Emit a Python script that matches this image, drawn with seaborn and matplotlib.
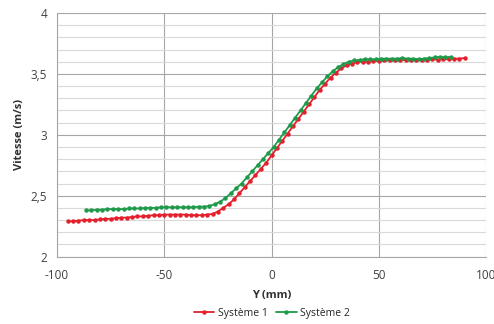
import numpy as np
import pandas as pd
import seaborn as sns
import matplotlib.pyplot as plt
from matplotlib.ticker import MultipleLocator, FuncFormatter

# Système 1 (red): positions every 2.5 mm from -95 to 90
y1 = np.arange(-95, 90.1, 2.5)
v1 = [2.29, 2.29, 2.295, 2.30, 2.30, 2.30, 2.305, 2.31, 2.31, 2.315,
      2.32, 2.32, 2.325, 2.33, 2.33, 2.335, 2.34, 2.34, 2.345, 2.345,
      2.345, 2.345, 2.345, 2.34, 2.34, 2.34, 2.345,
      2.35, 2.37, 2.40, 2.43, 2.47, 2.52, 2.57, 2.62, 2.67, 2.72,
      2.77, 2.83, 2.89, 2.95, 3.01, 3.07, 3.13, 3.19, 3.25, 3.31,
      3.37, 3.42, 3.47, 3.51, 3.545, 3.57, 3.585, 3.595, 3.60, 3.60,
      3.605,
      3.605, 3.61, 3.61, 3.61, 3.61, 3.615, 3.61, 3.615, 3.615, 3.615,
      3.62, 3.615, 3.62, 3.62, 3.625, 3.625, 3.63]

# Système 2 (green): positions every 2.5 mm from -86.5 to 83.5
y2 = np.arange(-86.5, 83.6, 2.5)
v2 = [2.38, 2.38, 2.385, 2.385, 2.39, 2.39, 2.39, 2.39, 2.395, 2.395,
      2.395, 2.40, 2.40, 2.40, 2.405, 2.405, 2.405, 2.405, 2.405, 2.405,
      2.405, 2.41, 2.41, 2.415,
      2.43, 2.45, 2.48, 2.52, 2.56, 2.60, 2.65, 2.70, 2.75, 2.80,
      2.85, 2.90, 2.96, 3.02, 3.08, 3.14, 3.20, 3.26, 3.32, 3.38,
      3.43, 3.48, 3.52, 3.555, 3.58, 3.60,
      3.61, 3.615, 3.62, 3.62, 3.62, 3.625, 3.625, 3.625, 3.625, 3.63,
      3.625, 3.625, 3.62, 3.625, 3.63, 3.635, 3.64, 3.635, 3.64]

df = pd.concat([
    pd.DataFrame({"Y": y1, "V": v1, "serie": "Système 1"}),
    pd.DataFrame({"Y": y2, "V": v2, "serie": "Système 2"}),
])

sns.set_style("white")
plt.rcParams["font.family"] = ["Open Sans", "DejaVu Sans"]
plt.rcParams["axes.unicode_minus"] = False

fig = plt.figure(figsize=(4.94, 3.24), dpi=100)
ax = fig.add_axes([0.1154, 0.208, 0.8686, 0.752])

ax.set_xlim(-100, 100)
ax.set_ylim(2, 4)
ax.xaxis.set_major_locator(MultipleLocator(50))
ax.yaxis.set_major_locator(MultipleLocator(0.5))
ax.yaxis.set_minor_locator(MultipleLocator(0.1))
ax.grid(which="major", color="#a6a6a6", lw=0.8)
ax.grid(which="minor", axis="y", color="#d9d9d9", lw=0.8)
ax.set_axisbelow(True)

sns.lineplot(data=df, x="Y", y="V", hue="serie",
             palette={"Système 1": "#e3202c", "Système 2": "#1e9a4a"},
             marker="o", markersize=3.2, markeredgewidth=0, lw=1.3, ax=ax)

fmt = FuncFormatter(lambda v, p: f"{v:g}".replace(".", ","))
ax.yaxis.set_major_formatter(fmt)
ax.tick_params(labelsize=8.5, colors="#404040", length=3, width=0.8)
ax.tick_params(axis="x", length=0, pad=9)
ax.tick_params(axis="y", pad=4)
for s in ["top", "right"]:
    ax.spines[s].set_visible(False)
for s in ["left", "bottom"]:
    ax.spines[s].set_color("#a6a6a6")
    ax.spines[s].set_linewidth(0.8)

ax.set_xlabel("Y (mm)", fontsize=8, fontweight="bold", color="#303030", labelpad=6)
ax.set_ylabel("Vitesse (m/s)", fontsize=8, fontweight="bold", color="#303030", labelpad=4)

ax.legend(loc="center", bbox_to_anchor=(0.5, -0.232), ncol=2, frameon=False,
          fontsize=7.5, handlelength=2.0, columnspacing=0.8, handletextpad=0.3,
          title=None)

fig.savefig("out.png", dpi=100)
